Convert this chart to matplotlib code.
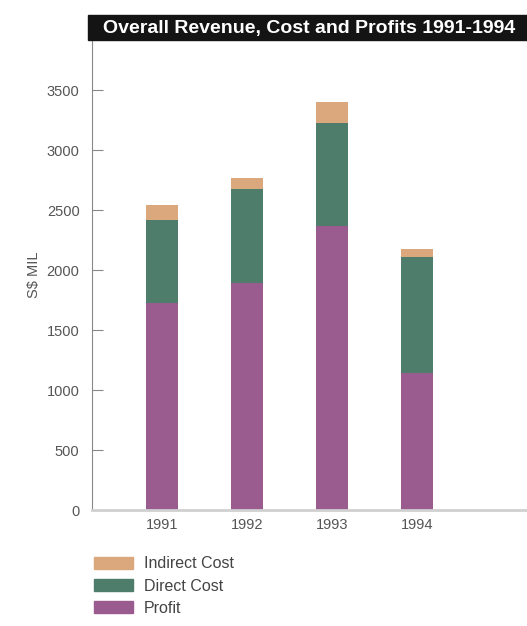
import matplotlib.pyplot as plt
from matplotlib.patches import Rectangle, Patch
import numpy as np

plt.rcParams['font.family'] = ['Liberation Sans Narrow', 'Liberation Sans', 'DejaVu Sans']

years = ['1991', '1992', '1993', '1994']
profit = [1730, 1890, 2370, 1140]
direct_cost = [690, 790, 860, 970]
indirect_cost = [120, 90, 170, 70]

c_profit = '#9a5b8e'
c_direct = '#4e7d6c'
c_indirect = '#dba77c'

fig = plt.figure(figsize=(5.27, 6.26), dpi=100)
ax = fig.add_axes([92 / 527, 1 - 510 / 626, 1 - 92 / 527, (510 - 40) / 626])

x = np.arange(len(years))
w = 0.38
p = np.array(profit)
d = np.array(direct_cost)
ax.bar(x, profit, w, color=c_profit)
ax.bar(x, direct_cost, w, bottom=p, color=c_direct)
ax.bar(x, indirect_cost, w, bottom=p + d, color=c_indirect)

ax.set_xlim(-0.83, 4.3)
ax.set_ylim(0, 3920)
ax.set_yticks(range(0, 3501, 500))
ax.set_xticks(x)
ax.set_xticklabels(years)
ax.tick_params(axis='y', direction='in', length=8, color='#888888', labelsize=10.5, labelcolor='#555555', pad=9)
ax.tick_params(axis='x', length=0, labelsize=10.5, labelcolor='#555555', pad=6)
ax.spines['top'].set_visible(False)
ax.spines['right'].set_visible(False)
ax.spines['left'].set_color('#888888')
ax.spines['left'].set_linewidth(0.8)
ax.spines['bottom'].set_color('#d0d0d0')
ax.spines['bottom'].set_linewidth(2)
ax.set_ylabel('S$ MIL', fontsize=10.5, color='#555555', labelpad=4)

# title bar
fig.patches.append(Rectangle((88 / 527, 1 - 40 / 626), 1 - 88 / 527, 25 / 626,
                             transform=fig.transFigure, color='#141414', zorder=0))
fig.text(0.587, 1 - 28 / 626, 'Overall Revenue, Cost and Profits 1991-1994', color='white',
         fontsize=14, fontweight='bold', ha='center', va='center')

handles = [Patch(color=c_indirect, label='Indirect Cost'),
           Patch(color=c_direct, label='Direct Cost'),
           Patch(color=c_profit, label='Profit')]
fig.legend(handles=handles, loc='upper left', bbox_to_anchor=(80 / 527, 1 - 542 / 626),
           frameon=False, fontsize=11.5, handlelength=2.4, handleheight=0.75,
           labelspacing=0.45, handletextpad=0.7, labelcolor='#444444')

fig.savefig('out.png', dpi=100)
